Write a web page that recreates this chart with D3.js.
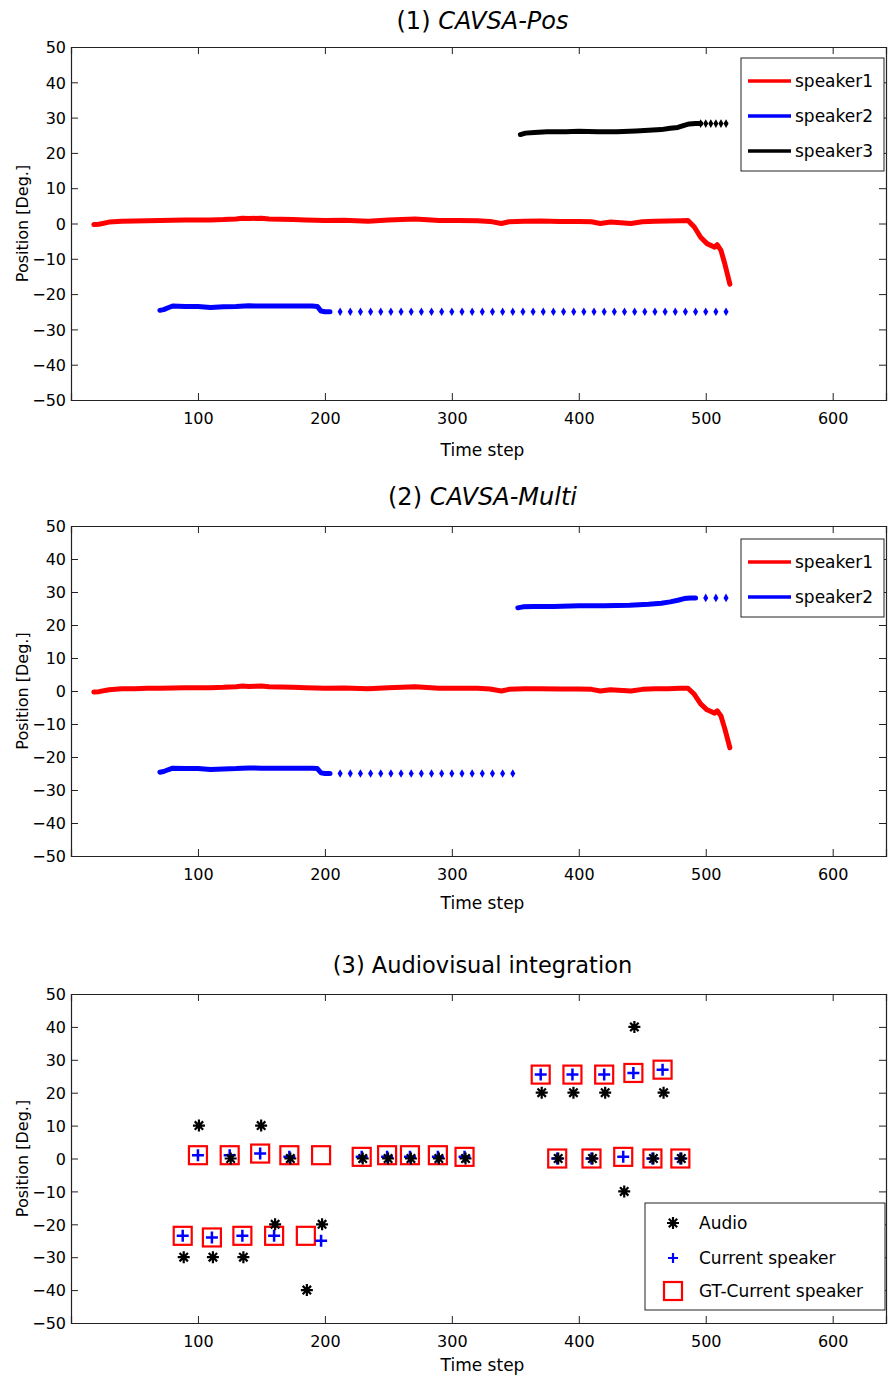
<!DOCTYPE html>
<html><head><meta charset="utf-8">
<script src="https://cdn.jsdelivr.net/npm/d3@7"></script>
<style>body{margin:0;background:#fff}svg{display:block}text{font-family:"DejaVu Sans",sans-serif;fill:#000}</style>
</head><body>
<script>
// ---------- data ----------
const xTicks = [100, 200, 300, 400, 500, 600];
const yTicks = [-50, -40, -30, -20, -10, 0, 10, 20, 30, 40, 50];

// speaker1 (red) - panels 1 & 2
const s1Time = [18,22,30,40,50,60,70,80,90,100,110,120,130,135,140,150,156,165,175,185,200,215,234,250,271,290,305,320,330,339,345,357,370,385,400,410,417,425,441,450,460,470,480,486,491,496,501,507,509,512,515,519];
const s1Pos  = [-0.3,-0.2,0.4,0.66,0.7,0.8,0.85,0.9,1.0,1.0,1.0,1.1,1.3,1.5,1.4,1.5,1.3,1.2,1.1,1.0,0.85,0.9,0.66,1.0,1.3,0.85,0.85,0.8,0.6,0.0,0.5,0.66,0.7,0.6,0.6,0.5,0.0,0.4,0.0,0.5,0.66,0.7,0.8,0.85,-1,-3.9,-5.7,-6.7,-6,-7.6,-11.4,-17.2];

// left speaker (blue) tracked segment
const sLeftTime = [70,73,77,80,90,100,110,120,130,140,150,160,170,180,190,194,197,200,204];
const sLeftPos  = [-24.6,-24.4,-23.8,-23.4,-23.5,-23.5,-23.8,-23.6,-23.5,-23.3,-23.4,-23.4,-23.4,-23.4,-23.4,-23.5,-24.8,-25,-25];
const sLeftHoldPos = -25;
const p1LeftHoldTime = [212,220,228,236,244,252,260,268,276,284,292,300,308,316,324,332,340,348,356,364,372,380,388,396,404,412,420,428,436,444,452,460,468,476,484,492,500,508,516];
const p2LeftHoldTime = [212,220,228,236,244,252,260,268,276,284,292,300,308,316,324,332,340,348];

// right speaker (black in panel 1, blue in panel 2)
const p1RightTime = [354,358,365,375,390,400,415,430,445,455,465,472,478,483,487,492,496];
const p1RightPos  = [25.2,25.6,25.8,26,26,26.1,26,26,26.2,26.4,26.6,27,27.2,27.8,28.2,28.3,28.3];
const p1RightHoldTime = [496,500,504,508,512,516];
const p1RightHoldPos = 28.3;
const p2RightTime = [352,356,365,380,400,420,440,455,465,472,478,483,488,492];
const p2RightPos  = [25.2,25.5,25.6,25.6,25.8,25.8,26,26.3,26.6,27,27.5,28,28.2,28.2];
const p2RightHoldTime = [500,508,516];
const p2RightHoldPos = 28.2;

// panel 3
const avTime    = [88,100,111,125,135,149,160,172,185,197,229,249,267,289,310,370,383,395,410,420,435,443,458,466,480];
const audioPos  = [-30,10,-30,0,-30,10,-20,0,-40,-20,0,0,0,0,0,20,0,20,0,20,-10,40,0,20,0];
const currPos   = [-23.5,1,-24,1,-23.5,1.5,-23.5,0.5,null,-25,0.5,0.5,0.5,0.5,0.5,25.5,0,25.5,0,25.5,0.5,26,0,27,0];
const gtPos     = [-23.5,1,-24,1,-23.5,1.5,-23.5,1,-23.5,1,0.5,1,1,1,0.5,25.5,0,25.5,0,25.5,0.5,26,0,27,0];

// ---------- drawing ----------
const W = 888, H = 1380;
const svg = d3.select("body").append("svg").attr("width", W).attr("height", H);
const X0 = 71, X1 = 886;

function panel(top, bottom, title, italicPart, titleY, titleSize, xlabOff) {
  const x = d3.scaleLinear().domain([0, 642]).range([X0, X1]);
  const y = d3.scaleLinear().domain([-50, 50]).range([bottom, top]);
  const g = svg.append("g");
  const t = g.append("text").attr("x", (X0 + X1) / 2 + 4).attr("y", titleY)
    .attr("text-anchor", "middle").style("font-size", titleSize + "px");
  t.append("tspan").text(title);
  if (italicPart) t.append("tspan").style("font-style", "italic").text(italicPart);
  const ax = g.append("g").attr("transform", `translate(0,${bottom})`)
    .call(d3.axisBottom(x).tickValues(xTicks).tickSize(-7).tickPadding(13).tickFormat(d3.format("d")));
  const axTop = g.append("g").attr("transform", `translate(0,${top})`)
    .call(d3.axisTop(x).tickValues(xTicks).tickSize(-7).tickFormat(""));
  const ay = g.append("g").attr("transform", `translate(${X0},0)`)
    .call(d3.axisLeft(y).tickValues(yTicks).tickSize(-7).tickPadding(5).tickFormat(d3.format("d")));
  const ayR = g.append("g").attr("transform", `translate(${X1},0)`)
    .call(d3.axisRight(y).tickValues(yTicks).tickSize(-7).tickFormat(""));
  [ax, axTop, ay, ayR].forEach(a => {
    a.select(".domain").attr("stroke", "#222").attr("stroke-width", 1.2);
    a.selectAll(".tick line").attr("stroke", "#222");
    a.selectAll("text").style("font-size", "16px").attr("fill", "#000");
  });
  ay.selectAll("text").attr("dy", "0.36em");
  g.append("text").attr("x", (X0 + X1) / 2 + 4).attr("y", bottom + xlabOff)
    .attr("text-anchor", "middle").style("font-size", "17px").text("Time step");
  g.append("text").attr("transform", `translate(28,${(top + bottom) / 2}) rotate(-90)`)
    .attr("text-anchor", "middle").style("font-size", "16px").text("Position [Deg.]");
  return {x, y, g};
}

function thick(P, times, pos, color) {
  const line = d3.line().x((d, i) => P.x(times[i])).y(d => P.y(d));
  P.g.append("path").attr("d", line(pos)).attr("fill", "none")
    .attr("stroke", color).attr("stroke-width", 5).attr("stroke-linejoin", "round").attr("stroke-linecap", "round");
}
function dots(P, times, val, color) {
  P.g.selectAll(null).data(times).enter().append("path")
    .attr("d", d3.symbol(d3.symbolDiamond, 22)())
    .attr("transform", d => `translate(${P.x(d)},${P.y(val)})`)
    .attr("fill", color);
}
function lineLegend(left, top, right, bottom, items) {
  const g = svg.append("g");
  g.append("rect").attr("x", left).attr("y", top).attr("width", right - left).attr("height", bottom - top)
    .attr("fill", "#fff").attr("stroke", "#222").attr("stroke-width", 1);
  items.forEach((it, i) => {
    const yy = top + 23 + i * 35;
    g.append("line").attr("x1", left + 7).attr("x2", left + 50).attr("y1", yy).attr("y2", yy)
      .attr("stroke", it.color).attr("stroke-width", 3.5);
    g.append("text").attr("x", left + 54).attr("y", yy).attr("dy", "0.35em")
      .style("font-size", "17px").text(it.label);
  });
}

// Panel 1
const P1 = panel(47, 400, "(1) ", "CAVSA-Pos", 29, 24, 56);
thick(P1, s1Time, s1Pos, "#ff0000");
thick(P1, sLeftTime, sLeftPos, "#0000ff");
dots(P1, p1LeftHoldTime, sLeftHoldPos, "#0000ff");
thick(P1, p1RightTime, p1RightPos, "#000000");
dots(P1, p1RightHoldTime, p1RightHoldPos, "#000000");
lineLegend(741, 58, 884, 171, [{label: "speaker1", color: "#ff0000"}, {label: "speaker2", color: "#0000ff"}, {label: "speaker3", color: "#000000"}]);

// Panel 2
const P2 = panel(526, 856, "(2) ", "CAVSA-Multi", 505, 24, 53);
thick(P2, s1Time, s1Pos, "#ff0000");
thick(P2, sLeftTime, sLeftPos, "#0000ff");
dots(P2, p2LeftHoldTime, sLeftHoldPos, "#0000ff");
thick(P2, p2RightTime, p2RightPos, "#0000ff");
dots(P2, p2RightHoldTime, p2RightHoldPos, "#0000ff");
lineLegend(741, 539, 884, 617, [{label: "speaker1", color: "#ff0000"}, {label: "speaker2", color: "#0000ff"}]);

// Panel 3
const P3 = panel(994, 1323, "(3) Audiovisual integration", null, 973, 22.5, 48);
const s = 6;
const starPath = `M0,${-s}L0,${s}M${-s},0L${s},0M${-0.7*s},${-0.7*s}L${0.7*s},${0.7*s}M${-0.7*s},${0.7*s}L${0.7*s},${-0.7*s}`;
const plusPath = `M0,${-s}L0,${s}M${-s},0L${s},0`;
function sq(g, cx, cy) {
  g.append("rect").attr("x", cx - 9).attr("y", cy - 9).attr("width", 18).attr("height", 18)
    .attr("fill", "none").attr("stroke", "#ff0000").attr("stroke-width", 2.2);
}
avTime.forEach((t, i) => {
  sq(P3.g, P3.x(t), P3.y(gtPos[i]));
});
avTime.forEach((t, i) => {
  if (currPos[i] !== null)
    P3.g.append("path").attr("d", plusPath).attr("transform", `translate(${P3.x(t)},${P3.y(currPos[i])})`)
      .attr("stroke", "#0000ff").attr("stroke-width", 2.5).attr("fill", "none");
});
avTime.forEach((t, i) => {
  P3.g.append("path").attr("d", starPath).attr("transform", `translate(${P3.x(t) + 1},${P3.y(audioPos[i])})`)
    .attr("stroke", "#000").attr("stroke-width", 2.2).attr("fill", "none");
});
{
  const g = svg.append("g");
  const L = 645, T = 1203, R = 885, B = 1310;
  g.append("rect").attr("x", L).attr("y", T).attr("width", R - L).attr("height", B - T)
    .attr("fill", "#fff").attr("stroke", "#222").attr("stroke-width", 1);
  const rows = [1223, 1258, 1291];
  g.append("path").attr("d", starPath).attr("transform", `translate(673,${rows[0]})`)
    .attr("stroke", "#000").attr("stroke-width", 2.2);
  g.append("path").attr("d", `M0,-5L0,5M-5,0L5,0`).attr("transform", `translate(673,${rows[1]})`)
    .attr("stroke", "#0000ff").attr("stroke-width", 2.2);
  sq(g, 673, rows[2]);
  ["Audio", "Current speaker", "GT-Current speaker"].forEach((lab, i) => {
    g.append("text").attr("x", 699).attr("y", rows[i]).attr("dy", "0.35em").style("font-size", "17px").text(lab);
  });
}
</script>
</body></html>
